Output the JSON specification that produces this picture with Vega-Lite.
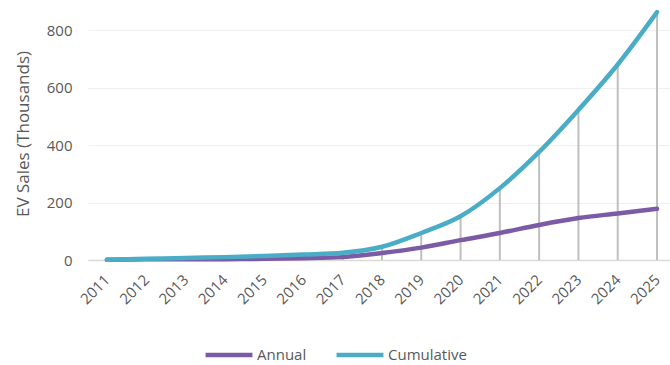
{
  "$schema": "https://vega.github.io/schema/vega-lite/v6.json",
  "autosize": "none",
  "width": 582,
  "height": 253,
  "padding": {"left": 88, "top": 7, "right": 0, "bottom": 105},
  "background": "white",
  "config": {
    "view": {"stroke": null},
    "font": "Open Sans",
    "axis": {"labelColor": "#595959", "titleColor": "#595959", "labelFont": "Open Sans", "titleFont": "Open Sans"},
    "legend": {"labelFont": "Open Sans"}
  },
  "data": {
    "values": [
      {"year": 2011, "series": "Annual", "value": 1},
      {"year": 2012, "series": "Annual", "value": 3},
      {"year": 2013, "series": "Annual", "value": 3},
      {"year": 2014, "series": "Annual", "value": 3},
      {"year": 2015, "series": "Annual", "value": 4},
      {"year": 2016, "series": "Annual", "value": 6},
      {"year": 2017, "series": "Annual", "value": 10},
      {"year": 2018, "series": "Annual", "value": 24},
      {"year": 2019, "series": "Annual", "value": 43},
      {"year": 2020, "series": "Annual", "value": 69},
      {"year": 2021, "series": "Annual", "value": 94},
      {"year": 2022, "series": "Annual", "value": 122},
      {"year": 2023, "series": "Annual", "value": 146},
      {"year": 2024, "series": "Annual", "value": 162},
      {"year": 2025, "series": "Annual", "value": 178},
      {"year": 2011, "series": "Cumulative", "value": 1},
      {"year": 2012, "series": "Cumulative", "value": 4},
      {"year": 2013, "series": "Cumulative", "value": 7},
      {"year": 2014, "series": "Cumulative", "value": 10},
      {"year": 2015, "series": "Cumulative", "value": 14},
      {"year": 2016, "series": "Cumulative", "value": 19},
      {"year": 2017, "series": "Cumulative", "value": 25},
      {"year": 2018, "series": "Cumulative", "value": 46},
      {"year": 2019, "series": "Cumulative", "value": 94},
      {"year": 2020, "series": "Cumulative", "value": 152},
      {"year": 2021, "series": "Cumulative", "value": 250},
      {"year": 2022, "series": "Cumulative", "value": 376},
      {"year": 2023, "series": "Cumulative", "value": 522},
      {"year": 2024, "series": "Cumulative", "value": 680},
      {"year": 2025, "series": "Cumulative", "value": 862}
    ]
  },
  "encoding": {
    "x": {
      "field": "year", "type": "quantitative",
      "scale": {"domain": [2010.52, 2025.33], "nice": false, "zero": false},
      "axis": {
        "title": null, "values": [2011,2012,2013,2014,2015,2016,2017,2018,2019,2020,2021,2022,2023,2024,2025],
        "format": "d", "labelAngle": -45, "labelFontSize": 15, "labelPadding": 17, "labelAlign": "right", "labelBaseline": "middle", "labelDx": 8,
        "ticks": false, "grid": false, "domainColor": "#d9d9d9", "domainWidth": 1.5, "labelFlush": false, "labelOverlap": false
      }
    }
  },
  "layer": [
    {
      "transform": [{"filter": "datum.series === 'Cumulative'"}],
      "mark": {"type": "rule", "color": "#bfbfbf", "strokeWidth": 2},
      "encoding": {
        "y": {"field": "value", "type": "quantitative"},
        "y2": {"datum": 0}
      }
    },
    {
      "mark": {"type": "line", "interpolate": "monotone", "strokeWidth": 4.5, "strokeCap": "round"},
      "encoding": {
        "y": {
          "field": "value", "type": "quantitative",
          "scale": {"domain": [0, 880], "nice": false},
          "axis": {
            "title": "EV Sales (Thousands)", "titleFontSize": 17, "titleFontWeight": "normal", "titlePadding": 14,
            "values": [0, 200, 400, 600, 800], "labelFontSize": 15, "labelPadding": 16,
            "ticks": false, "domain": false, "grid": true, "gridColor": "#efefef", "gridWidth": 1.2
          }
        },
        "color": {
          "field": "series", "type": "nominal",
          "scale": {"domain": ["Annual", "Cumulative"], "range": ["#7b5aa6", "#4bacc6"]},
          "legend": {
            "title": null, "orient": "none", "legendX": 115, "legendY": 322, "direction": "horizontal",
            "symbolType": "stroke", "symbolSize": 2200, "symbolStrokeWidth": 4.5,
            "labelFontSize": 15, "labelColor": "#595959", "labelOffset": 2, "columnPadding": 20
          }
        }
      }
    }
  ]
}
